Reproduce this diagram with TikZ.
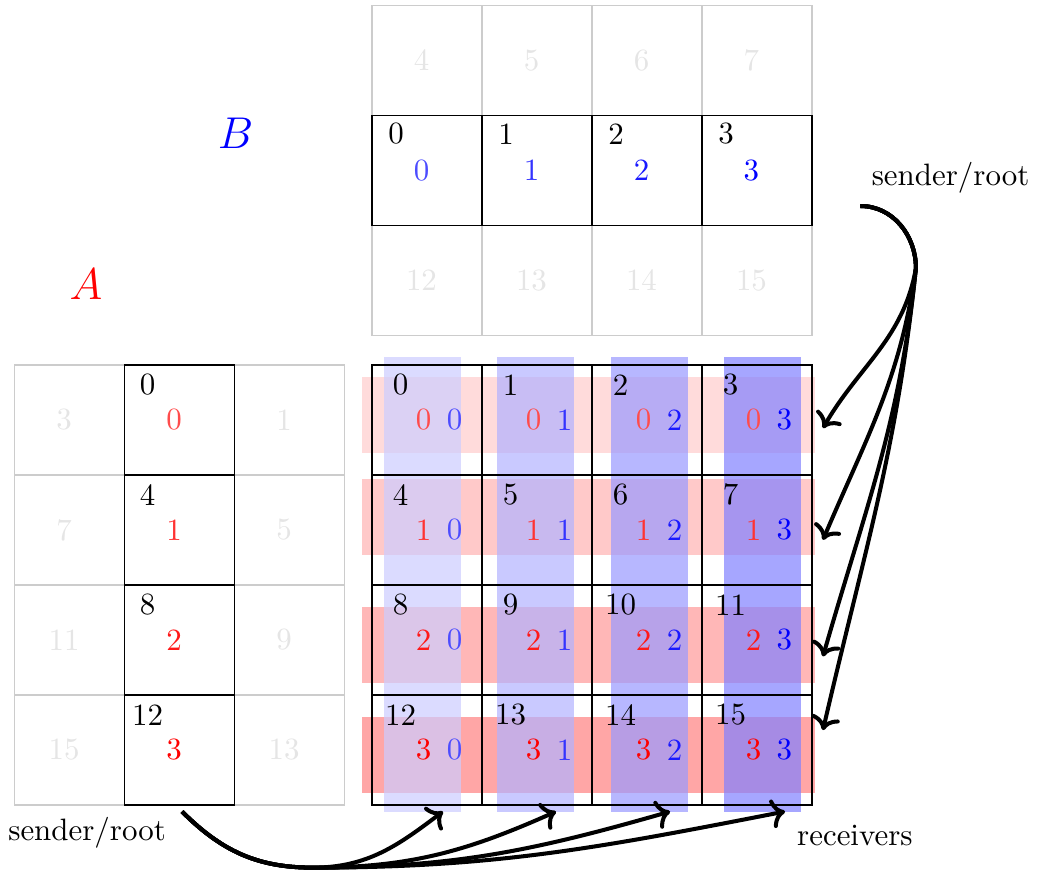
\documentclass[tikz,border=0pt]{standalone}
\usepackage{amsmath}
\usepackage{xcolor}
\usetikzlibrary{arrows.meta}

\tikzset{
	faint/.style={draw=gray!40},
	ghost/.style={text=black!10},
	arr/.style={line width=1.3pt,->},
}

\begin{document}
\begin{tikzpicture}[x=1.25cm,y=1.25cm]
	\useasboundingbox (-3.382,-4.609) rectangle (6.055,3.318);

	% bands of A (rows) and B (columns) over C
	\foreach \r/\t/\p in {0/-0.11/20,1/-1.04/30,2/-2.2/40,3/-3.2/50}
		\fill[red!\p,opacity=0.7] (-0.09,\t) rectangle (4.03,\t-0.69);
	\foreach \c/\l/\p in {0/0.11/20,1/1.136/30,2/2.173/40,3/3.2/50}
		\fill[blue!\p,opacity=0.7] (\l,0.07) rectangle (\l+0.7,-4.065);

	% C
	\foreach \r in {0,...,3}
	\foreach \c in {0,...,3} {
		\pgfmathtruncatemacro{\n}{4*\r+\c}
		\pgfmathtruncatemacro{\pr}{70+10*\r}
		\pgfmathtruncatemacro{\pb}{70+10*\c}
		\draw (\c,-\r) rectangle (\c+1,-\r-1);
		\node (ci\n) at (\c+0.26,-\r-0.18) {\n};
		\node[text=red!\pr] (ca\n) at (\c+0.47,-\r-0.5) {\r};
		\node[text=blue!\pb] (cb\n) at (\c+0.75,-\r-0.5) {\c};
	}

	% B
	\foreach \c in {0,...,3} {
		\pgfmathtruncatemacro{\nt}{4+\c}
		\pgfmathtruncatemacro{\nb}{12+\c}
		\draw[faint] (\c,2.27) rectangle (\c+1,3.27);
		\draw[faint] (\c,0.27) rectangle (\c+1,1.27);
		\node[ghost] (bt\c) at (\c+0.45,2.77) {\nt};
		\node[ghost] (bb\c) at (\c+0.45,0.77) {\nb};
	}
	\foreach \c in {0,...,3} {
		\pgfmathtruncatemacro{\pb}{70+10*\c}
		\draw (\c,1.27) rectangle (\c+1,2.27);
		\node (bi\c) at (\c+0.22,2.1) {\c};
		\node[text=blue!\pb] (bn\c) at (\c+0.45,1.77) {\c};
	}

	% A
	\foreach \r in {0,...,3} {
		\pgfmathtruncatemacro{\nl}{3+4*\r}
		\pgfmathtruncatemacro{\nr}{1+4*\r}
		\draw[faint] (-3.25,-\r) rectangle (-2.25,-\r-1);
		\draw[faint] (-1.25,-\r) rectangle (-0.25,-\r-1);
		\node[ghost] (al\r) at (-2.8,-\r-0.5) {\nl};
		\node[ghost] (ar\r) at (-0.8,-\r-0.5) {\nr};
	}
	\foreach \r in {0,...,3} {
		\pgfmathtruncatemacro{\n}{4*\r}
		\pgfmathtruncatemacro{\pr}{70+10*\r}
		\draw (-2.25,-\r) rectangle (-1.25,-\r-1);
		\node (ai\r) at (-2.04,-\r-0.18) {\n};
		\node[text=red!\pr] (an\r) at (-1.8,-\r-0.5) {\r};
	}

	\node[text=red,font=\Large] (labA) at (-2.6,0.73) {$A$};
	\node[text=blue,font=\Large] (labB) at (-1.24,2.11) {$B$};

	\node (sendA) at (-2.59,-4.25) {sender/root};
	\node (sendB) at (5.26,1.7) {sender/root};
	\node (recv) at (4.39,-4.28) {receivers};

	% broadcast of A along rows
	\coordinate (sA) at (-1.727,-4.06);
	\coordinate (kA) at (-0.54,-4.57);
	\foreach \j/\x/\a in {0/0.645/217,1/1.673/204,2/2.71/196,3/3.755/191} {
		\coordinate (eA\j) at (\x,-4.06);
		\draw[arr] (sA) to[out=-45,in=180] (kA) to[out=0,in=\a] (eA\j);
	}

	% broadcast of B along columns
	\coordinate (sB) at (4.44,1.445);
	\coordinate (kB) at (4.945,0.88);
	\foreach \j/\y/\o/\a in {0/-0.574/-100/60,1/-1.59/-98/67,2/-2.65/-96/74,3/-3.32/-96/77} {
		\coordinate (eB\j) at (4.1,\y);
		\draw[arr] (sB) to[out=0,in=90] (kB) to[out=\o,in=\a] (eB\j);
	}
\end{tikzpicture}
\end{document}
